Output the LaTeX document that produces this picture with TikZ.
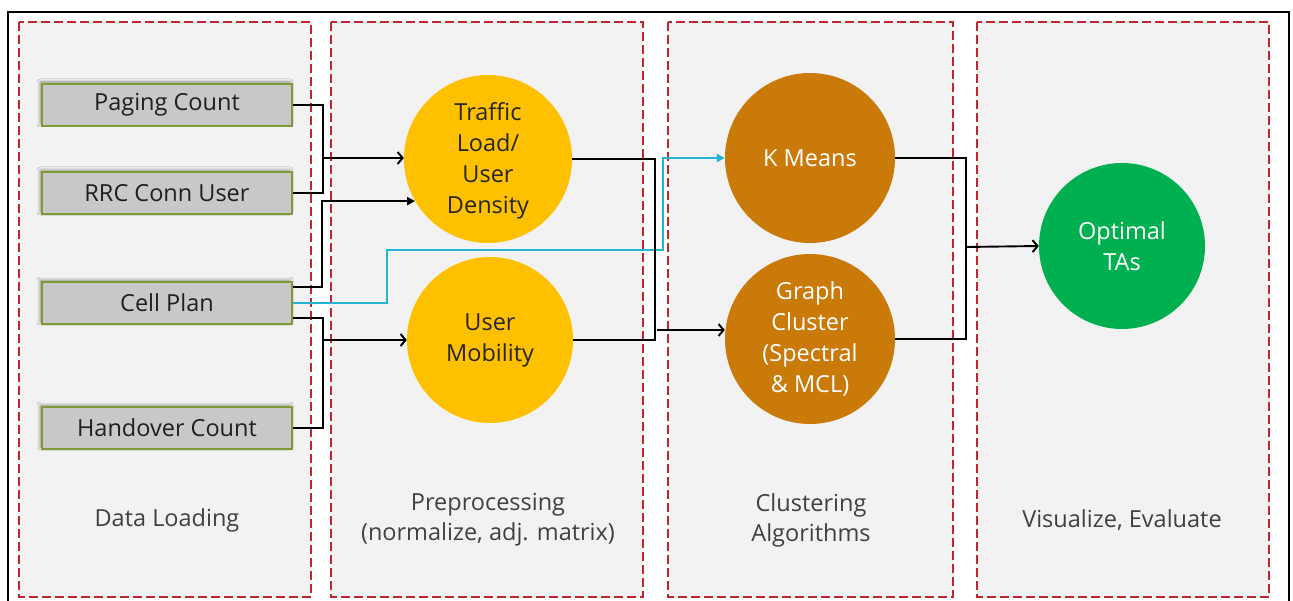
\documentclass[tikz,border=0pt]{standalone}
\usepackage{fontspec}
\setmainfont{Open Sans}
\usetikzlibrary{arrows.meta,shadows.blur,calc}

\definecolor{panelfill}{HTML}{F2F2F2}
\definecolor{panelred}{HTML}{C0262F}
\definecolor{boxgray}{HTML}{C8C8C8}
\definecolor{boxolive}{HTML}{7E9B35}
\definecolor{loadyellow}{HTML}{FFC000}
\definecolor{clusterbrown}{HTML}{C97A09}
\definecolor{resultgreen}{HTML}{00B050}
\definecolor{linkcyan}{HTML}{22B4D2}
\definecolor{labelgray}{HTML}{404040}

\tikzset{
  panel/.style={draw=panelred, fill=panelfill, line width=1.3pt, dash pattern=on 9pt off 4pt},
  srcbox/.style={draw=boxolive, fill=boxgray, line width=1.3pt,
    minimum width=250pt, minimum height=42pt, inner sep=0pt,
    font=\fontsize{23.5}{28}\selectfont, text=black!88,
    blur shadow={shadow xshift=-2pt, shadow yshift=2pt, shadow blur radius=3pt, shadow opacity=40}},
  stage/.style={circle, inner sep=0pt, align=center, font=\fontsize{23.5}{31}\selectfont},
  link/.style={line width=1.9pt, draw=black},
  openarrow/.style={link, -{Straight Barb[length=5pt,width=12pt]}},
  fillarrow/.style={link, -{Triangle[length=8pt,width=8pt]}},
  caption/.style={text=labelgray, align=center, font=\fontsize{23.5}{30}\selectfont},
}

\begin{document}
\begin{tikzpicture}[x=1pt,y=-1pt]
  \useasboundingbox (0,0) rectangle (1293,601);
  \clip (0,0) rectangle (1293,601);

  % outer frame, open at the bottom
  \draw[line width=1.6pt] (8,620) -- (8,12) -- (1289,12) -- (1289,620);

  % stage panels
  \draw[panel] (19,22) rectangle (311,597);
  \draw[panel] (331,22) rectangle (643,597);
  \draw[panel] (668,22) rectangle (953,597);
  \draw[panel] (977,22) rectangle (1269,597);

  % panel captions
  \node[caption] (capA) at (167,520) {Data Loading};
  \node[caption] (capB) at (488,520) {Preprocessing\\(normalize, adj. matrix)};
  \node[caption] (capC) at (811,520) {Clustering\\Algorithms};
  \node[caption] (capD) at (1122,520) {Visualize, Evaluate};

  % input data
  \node[srcbox] (pc)  at (167,105) {Paging Count};
  \node[srcbox] (rrc) at (167,193) {RRC Conn User};
  \node[srcbox] (cp)  at (167,303) {Cell Plan};
  \node[srcbox] (ho)  at (167,428) {Handover Count};

  % preprocessing
  \node[stage, fill=loadyellow, minimum size=168pt, text=black!85] (tl) at (488,159) {\strut Traffic\\Load/\\User\\Density};
  \node[stage, fill=loadyellow, minimum size=166pt, text=black!85] (um) at (490,340) {User\\Mobility};

  % clustering
  \node[stage, fill=clusterbrown, minimum size=170pt, text=white] (km) at (810,158) {K Means};
  \node[stage, fill=clusterbrown, minimum size=170pt, text=white] (gc) at (810,339) {Graph\\Cluster\\(Spectral\\\& MCL)};

  % result
  \node[stage, fill=resultgreen, minimum size=166pt, text=white] (ota) at (1122,246) {Optimal\\TAs};

  % junction points
  \coordinate (jA) at (322,158);
  \coordinate (jB) at (322,340);
  \coordinate (jC) at (657,330);
  \coordinate (jD) at (966,247);

  % data loading -> preprocessing
  \draw[link] (pc.east) -| ($(rrc.east)+(30,0)$) -- (rrc.east);
  \draw[openarrow] (jA) -- (jA -| tl.west);
  \draw[fillarrow] ([yshift=16pt]cp.east) -| ($(cp.east |- tl.210)+(29,0)$) -- (tl.210);
  \draw[link] ([yshift=-15pt]cp.east) -| ($(ho.east)+(30,0)$) -- (ho.east);
  \draw[openarrow] (jB) -- (um.west);

  % cell plan feeds k-means directly
  \draw[line width=1.9pt, draw=linkcyan, -{Triangle[length=8pt,width=8pt]}]
    (cp.east) -| (387,250) -| (663,158) -- (km.west);

  % preprocessing -> clustering
  \draw[link] (tl.east) -| ($(um.east)+(82,0)$) -- (um.east);
  \draw[openarrow] (jC) -- (jC -| gc.west);

  % clustering -> result
  \draw[link] (km.east) -| ($(gc.east)+(71,0)$) -- (gc.east);
  \draw[openarrow] (jD) -- (ota.west);
\end{tikzpicture}
\end{document}
